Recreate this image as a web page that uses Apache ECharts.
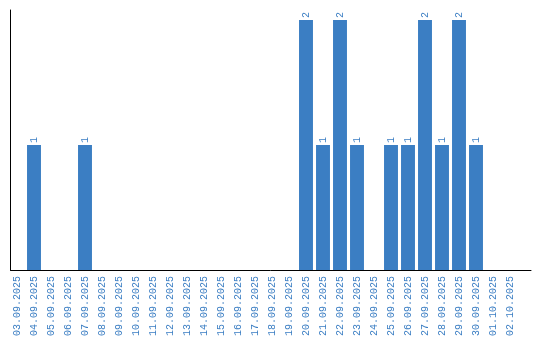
<!DOCTYPE html>
<html><head><meta charset="utf-8">
<script src="https://cdn.jsdelivr.net/npm/echarts@6/dist/echarts.min.js"></script>
<style>html,body{margin:0;padding:0;background:#fff}#c{width:540px;height:340px}</style>
</head><body><div id="c"></div>
<script>
var categories = ["03.09.2025","04.09.2025","05.09.2025","06.09.2025","07.09.2025","08.09.2025","09.09.2025","10.09.2025","11.09.2025","12.09.2025","13.09.2025","14.09.2025","15.09.2025","16.09.2025","17.09.2025","18.09.2025","19.09.2025","20.09.2025","21.09.2025","22.09.2025","23.09.2025","24.09.2025","25.09.2025","26.09.2025","27.09.2025","28.09.2025","29.09.2025","30.09.2025","01.10.2025","02.10.2025"];
var values = [null,1,null,null,1,null,null,null,null,null,null,null,null,null,null,null,null,2,1,2,1,null,1,1,2,1,2,1,null,null];
var barColor = '#3b7ec3';
var font = 'Liberation Mono';
var chart = echarts.init(document.getElementById('c'), null, {renderer:'canvas'});
chart.setOption({
  animation:false,
  grid:[
    {left:8.5, width:510, top:10, bottom:70},
    {left:10.5, right:9, top:10, bottom:70}
  ],
  xAxis:[
    {type:'category', gridIndex:0, data:categories,
     axisLine:{show:false}, axisTick:{show:false},
     axisLabel:{rotate:90, interval:0, color:barColor, fontFamily:font, fontSize:10, margin:6}},
    {type:'value', gridIndex:1, min:0, max:1,
     axisLine:{show:true, onZero:false, lineStyle:{color:'#000', width:1}},
     axisTick:{show:false}, axisLabel:{show:false}, splitLine:{show:false}}
  ],
  yAxis:[
    {type:'value', gridIndex:0, min:0, max:2.08,
     axisLine:{show:false}, axisTick:{show:false}, axisLabel:{show:false}, splitLine:{show:false}},
    {type:'value', gridIndex:1, min:0, max:1,
     axisLine:{show:true, onZero:false, lineStyle:{color:'#000', width:1}},
     axisTick:{show:false}, axisLabel:{show:false}, splitLine:{show:false}}
  ],
  series:[{
    type:'bar', xAxisIndex:0, yAxisIndex:0, data:values,
    barCategoryGap:'18%',
    itemStyle:{color:barColor},
    label:{show:true, position:'top', rotate:90, align:'left', verticalAlign:'middle', distance:2,
      color:barColor, fontFamily:font, fontSize:10}
  }]
});
</script></body></html>
